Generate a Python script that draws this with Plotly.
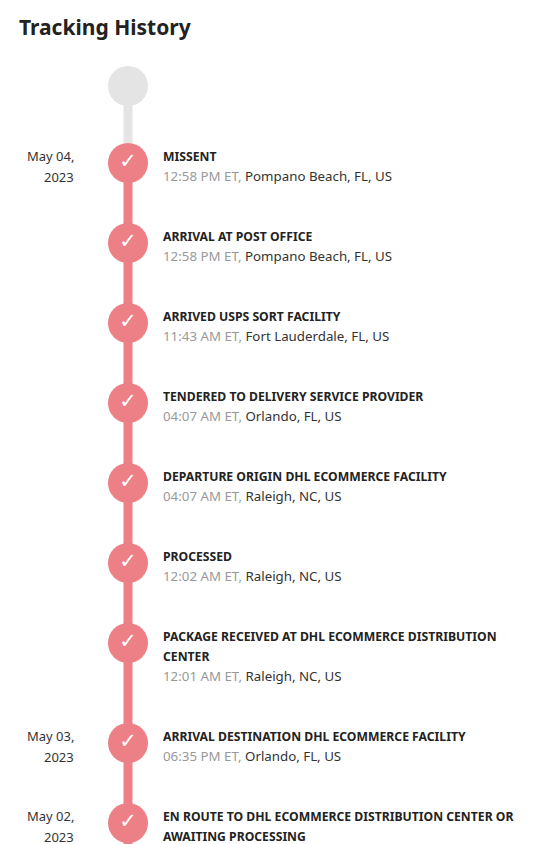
import plotly.graph_objects as go

# tracking events, newest first
dates = ["May 04,|2023", "", "", "", "", "", "", "May 03,|2023", "May 02,|2023"]
statuses = [
    "MISSENT",
    "ARRIVAL AT POST OFFICE",
    "ARRIVED USPS SORT FACILITY",
    "TENDERED TO DELIVERY SERVICE PROVIDER",
    "DEPARTURE ORIGIN DHL ECOMMERCE FACILITY",
    "PROCESSED",
    "PACKAGE RECEIVED AT DHL ECOMMERCE DISTRIBUTION|CENTER",
    "ARRIVAL DESTINATION DHL ECOMMERCE FACILITY",
    "EN ROUTE TO DHL ECOMMERCE DISTRIBUTION CENTER OR|AWAITING PROCESSING",
]
times = ["12:58 PM ET", "12:58 PM ET", "11:43 AM ET", "04:07 AM ET", "04:07 AM ET",
         "12:02 AM ET", "12:01 AM ET", "06:35 PM ET", ""]
places = ["Pompano Beach, FL, US", "Pompano Beach, FL, US", "Fort Lauderdale, FL, US",
          "Orlando, FL, US", "Raleigh, NC, US", "Raleigh, NC, US", "Raleigh, NC, US",
          "Orlando, FL, US", ""]

W, H = 552, 844
OFF = 9  # page body margin in the browser
LINE_X = 129
PINK = "#EC8086"
GRAY = "#E4E4E4"
FONT = "Noto Sans"

# vertical positions: 80px per event, +20px per extra title line
ys = []
y = 164
for s in statuses:
    ys.append(y)
    y += 80 + 20 * (len(s.split("|")) - 1)

fig = go.Figure()

shapes = [
    dict(type="line", x0=LINE_X, x1=LINE_X, y0=87, y1=ys[0], line=dict(color=GRAY, width=9), layer="below"),
    dict(type="line", x0=LINE_X, x1=LINE_X, y0=ys[0], y1=H + 20, line=dict(color=PINK, width=9), layer="below"),
]

fig.add_trace(go.Scatter(x=[LINE_X], y=[87], mode="markers",
                         marker=dict(size=40, color=GRAY), hoverinfo="skip"))
fig.add_trace(go.Scatter(x=[LINE_X] * len(ys), y=ys, mode="markers+text",
                         marker=dict(size=40, color=PINK),
                         text=["✓"] * len(ys), textposition="middle center",
                         textfont=dict(color="white", size=21, family="DejaVu Sans"),
                         hoverinfo="skip"))

ann = [dict(x=18, y=28, text="<b>Tracking History</b>", xanchor="left", yanchor="middle",
            showarrow=False, font=dict(size=21, color="#222", family=FONT))]
for i, yy in enumerate(ys):
    if dates[i]:
        for j, part in enumerate(dates[i].split("|")):
            ann.append(dict(x=77, y=yy - 7 + 21 * j, text=part, xanchor="right", yanchor="middle",
                            showarrow=False, font=dict(size=13, color="#333", family=FONT)))
    lines = statuses[i].split("|")
    for j, part in enumerate(lines):
        ann.append(dict(x=162, y=yy - 7 + 20 * j, text="<b>" + part + "</b>", xanchor="left",
                        yanchor="middle", showarrow=False,
                        font=dict(size=12.2, color="#222", family=FONT)))
    if times[i]:
        ann.append(dict(x=162, y=yy + 13 + 20 * (len(lines) - 1),
                        text=f"<span style='color:#999'>{times[i]},</span> {places[i]}",
                        xanchor="left", yanchor="middle", showarrow=False,
                        font=dict(size=13.3, color="#333", family=FONT)))

fig.update_layout(
    width=W, height=H, margin=dict(l=0, r=0, t=0, b=0),
    paper_bgcolor="white", plot_bgcolor="white", showlegend=False,
    xaxis=dict(range=[OFF, W + OFF], visible=False, fixedrange=True),
    yaxis=dict(range=[H + OFF, OFF], visible=False, fixedrange=True),
    shapes=shapes, annotations=ann,
)

fig.write_html("out.html", config={"displayModeBar": False})
